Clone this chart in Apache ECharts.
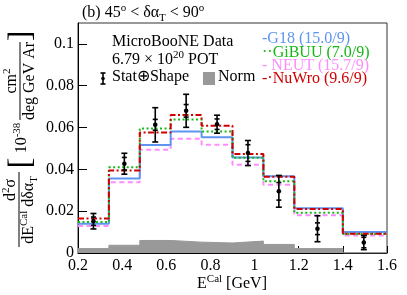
<!DOCTYPE html>
<html><head><meta charset="utf-8">
<script src="https://cdn.jsdelivr.net/npm/echarts@6/dist/echarts.min.js"></script>
<style>html,body{margin:0;padding:0;background:#fff}#c{width:407px;height:295px}</style>
</head><body><div id="c"></div>
<script>
// ---- data ----
const binEdges = [0.2, 0.34, 0.48, 0.62, 0.76, 0.9, 1.04, 1.18, 1.4, 1.6];
const g18   = [0.0140, 0.0356, 0.0516, 0.0581, 0.0554, 0.0457, 0.0367, 0.0214, 0.0100];
const gibuu = [0.0148, 0.0410, 0.0595, 0.0638, 0.0581, 0.0455, 0.0343, 0.0192, 0.0091];
const neut  = [0.0129, 0.0338, 0.0494, 0.0546, 0.0518, 0.0422, 0.0327, 0.0181, 0.0084];
const nuwro = [0.0165, 0.0394, 0.0576, 0.0660, 0.0608, 0.0473, 0.0365, 0.0211, 0.0092];
const normUnc = [0.0021, 0.0037, 0.0060, 0.0052, 0.0048, 0.0057, 0.0041, 0.0021, 0.0000];
const dataX = [0.27, 0.41, 0.55, 0.69, 0.83, 0.97, 1.11, 1.285, 1.495];
const dataY = [0.0152, 0.0427, 0.0613, 0.0680, 0.0616, 0.0478, 0.0295, 0.0116, 0.0050];
const errTotal = [0.0037, 0.0050, 0.0082, 0.0079, 0.0043, 0.0060, 0.0076, 0.0062, 0.0034];
const errStat  = [0.0020, 0.0030, 0.0026, 0.0030, 0.0025, 0.0040, 0.0042, 0.0028, 0.0025];
const xTickLabels = ['0.2','0.4','0.6','0.8','1','1.2','1.4','1.6'];
const yTickLabels = ['0','0.02','0.04','0.06','0.08','0.1'];
const legendNames = ['G18 (15.0/9)', 'GiBUU (7.0/9)', 'NEUT (15.7/9)', 'NuWro (9.6/9)'];

// ---- helpers ----
const FONT = 'Liberation Serif';
function stepData(vals) {
  const d = vals.map((v, i) => [binEdges[i], v]);
  d.push([binEdges[binEdges.length - 1], vals[vals.length - 1]]);
  return d;
}
const rich = {
  n:   {fontFamily: FONT, fontSize: 16, color: 'inherit', verticalAlign: 'bottom', padding: [0,0,3,0]},
  sup: {fontFamily: FONT, fontSize: 11, verticalAlign: 'bottom', padding: [0,0,10,0]},
  sub: {fontFamily: FONT, fontSize: 11, verticalAlign: 'bottom', padding: [0,0,0,0]}
};
function richFor(color) {
  const r = {};
  for (const k in rich) r[k] = Object.assign({}, rich[k], {color: color});
  return r;
}
function txt(x, y, text, opts) {
  opts = opts || {};
  const color = opts.color || '#000';
  return {
    type: 'text', x: x, y: y, rotation: opts.rotation || 0, z: 100,
    style: {
      text: text, fill: color, font: (opts.size || 16) + 'px "' + FONT + '"',
      align: opts.align || 'left', verticalAlign: opts.va || 'middle',
      rich: richFor(color)
    }
  };
}
const R = Math.PI / 2;

const chart = echarts.init(document.getElementById('c'), null, {renderer: 'canvas'});

const histStyles = [
  {data: g18,   color: '#5f95f0', type: 'solid', z: 4},
  {data: gibuu, color: '#16b816', type: [2, 2.5], z: 5},
  {data: neut,  color: '#ff8cff', type: [5, 3.5], z: 3},
  {data: nuwro, color: '#d00000', type: [6, 2.5, 2, 2.5], z: 6}
];

const series = [
  {
    type: 'line', step: 'end', data: stepData(normUnc), symbol: 'none', z: 1,
    lineStyle: {color: '#999', width: 1}, areaStyle: {color: '#999', opacity: 1}, silent: true
  }
].concat(histStyles.map(h => ({
  type: 'line', step: 'end', data: stepData(h.data), symbol: 'none', z: h.z,
  lineStyle: {color: h.color, width: 2, type: h.type}
}))).concat([{
  type: 'custom', z: 10,
  data: dataX.map((x, i) => [x, dataY[i], errTotal[i], errStat[i]]),
  encode: {x: 0, y: 1},
  renderItem: function (params, api) {
    const x = api.value(0), y = api.value(1), et = api.value(2), es = api.value(3);
    const p = api.coord([x, y]);
    const hi = api.coord([x, y + et]), lo = api.coord([x, y - et]);
    const sh = api.coord([x, y + es]), sl = api.coord([x, y - es]);
    const st = {stroke: '#000', lineWidth: 1.6};
    const L = (x1, y1, x2, y2) => ({type: 'line', shape: {x1, y1, x2, y2}, style: st});
    return {type: 'group', children: [
      L(p[0], lo[1], p[0], hi[1]),
      L(p[0] - 3, hi[1], p[0] + 3, hi[1]),
      L(p[0] - 3, lo[1], p[0] + 3, lo[1]),
      L(p[0] - 2.5, sh[1], p[0] + 2.5, sh[1]),
      L(p[0] - 2.5, sl[1], p[0] + 2.5, sl[1]),
      {type: 'circle', shape: {cx: p[0], cy: p[1], r: 2.3}, style: {fill: '#000'}}
    ]};
  }
}]);

const legendColors = ['#5f95f0', '#16b816', '#ff8cff', '#d00000'];
const legendPrefix = ['-', '··', '- ', '-·'];
const legendYs = [40, 54, 67, 80];

const graphics = [
  txt(82, 13, '{n|(b) 45}{sup|o}{n| < δα}{sub|T}{n| < 90}{sup|o}'),
  txt(112, 43, '{n|MicroBooNE Data}'),
  txt(112, 60, '{n|6.79 × 10}{sup|20}{n| POT}'),
  txt(112, 78, '{n|Stat⊕Shape}'),
  txt(218, 78, '{n|Norm}'),
  {type: 'line', shape: {x1: 103, y1: 73, x2: 103, y2: 84}, style: {stroke: '#000', lineWidth: 1.6}},
  {type: 'line', shape: {x1: 100.5, y1: 73, x2: 105.5, y2: 73}, style: {stroke: '#000', lineWidth: 1.6}},
  {type: 'line', shape: {x1: 100.5, y1: 84, x2: 105.5, y2: 84}, style: {stroke: '#000', lineWidth: 1.6}},
  {type: 'circle', shape: {cx: 103, cy: 78.5, r: 1.8}, style: {fill: '#000'}},
  {type: 'rect', shape: {x: 203, y: 72, width: 12, height: 13}, style: {fill: '#999'}},
  txt(232, 284, '{n|E}{sup|Cal}{n| [GeV]}', {align: 'center'}),
  // y-axis title pieces (rotated)
  txt(11, 190, '{n|d}{sup|2}{n|σ}', {rotation: R, align: 'center'}),
  {type: 'line', shape: {x1: 19, y1: 172, x2: 19, y2: 247}, style: {stroke: '#000', lineWidth: 1}},
  txt(29, 210, '{n|dE}{sup|Cal}{n| dδα}{sub|T}', {rotation: R, align: 'center'}),
  txt(22, 163, '[', {rotation: R, align: 'center', size: 32}),
  txt(22, 138, '{n|10}{sup|-38}', {rotation: R, align: 'center'}),
  txt(12, 81, '{n|cm}{sup|2}', {rotation: R, align: 'center'}),
  {type: 'line', shape: {x1: 20, y1: 42, x2: 20, y2: 120}, style: {stroke: '#000', lineWidth: 1}},
  txt(31, 81, '{n|deg GeV Ar}', {rotation: R, align: 'center'}),
  txt(22, 36, ']', {rotation: R, align: 'center', size: 32})
];
legendNames.forEach((name, i) => {
  graphics.push(txt(262, legendYs[i], '{n|' + legendPrefix[i] + name + '}', {color: legendColors[i]}));
});

chart.setOption({
  animation: false,
  grid: {left: 78, right: 20, top: 23, bottom: 42, show: true, borderColor: '#333', borderWidth: 1, backgroundColor: 'transparent'},
  xAxis: {
    type: 'value', min: 0.2, max: 1.6, interval: 0.2,
    axisLine: {show: true, lineStyle: {color: '#000', width: 1}},
    axisTick: {show: true, inside: true, length: 7, lineStyle: {color: '#000'}},
    axisLabel: {fontFamily: FONT, fontSize: 16, color: '#000', margin: 5,
      formatter: v => { const i = Math.round((v - 0.2) / 0.2); return Math.abs(v - (0.2 + 0.2 * i)) < 1e-6 ? (xTickLabels[i] || '') : ''; }},
    splitLine: {show: false}
  },
  yAxis: {
    type: 'value', min: 0, max: 0.11, interval: 0.02,
    axisLine: {show: true, lineStyle: {color: '#000', width: 1}},
    axisTick: {show: true, inside: true, length: 9, lineStyle: {color: '#000'}},
    axisLabel: {fontFamily: FONT, fontSize: 16, color: '#000', margin: 4, showMaxLabel: false,
      formatter: v => { const i = Math.round(v / 0.02); return Math.abs(v - 0.02 * i) < 1e-6 ? (yTickLabels[i] || '') : ''; }},
    splitLine: {show: false}
  },
  series: series,
  graphic: graphics
});
</script></body></html>
